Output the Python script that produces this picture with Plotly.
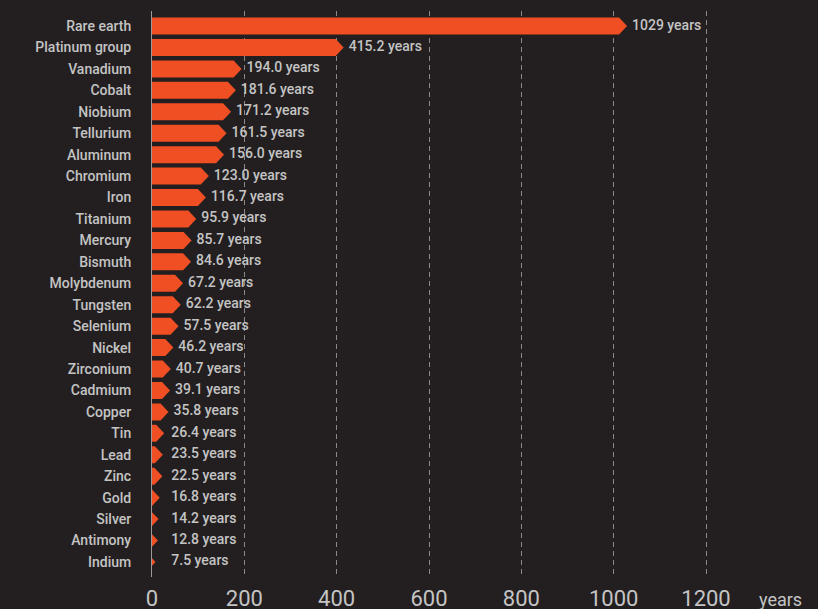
import plotly.graph_objects as go

materials = ["Rare earth", "Platinum group", "Vanadium", "Cobalt", "Niobium", "Tellurium",
             "Aluminum", "Chromium", "Iron", "Titanium", "Mercury", "Bismuth", "Molybdenum",
             "Tungsten", "Selenium", "Nickel", "Zirconium", "Cadmium", "Copper", "Tin",
             "Lead", "Zinc", "Gold", "Silver", "Antimony", "Indium"]
years = [1029, 415.2, 194.0, 181.6, 171.2, 161.5, 156.0, 123.0, 116.7, 95.9, 85.7, 84.6,
         67.2, 62.2, 57.5, 46.2, 40.7, 39.1, 35.8, 26.4, 23.5, 22.5, 16.8, 14.2, 12.8, 7.5]
x_ticks = [0, 200, 400, 600, 800, 1000, 1200]

BG = "#231f20"
BAR = "#f04e23"
TXT = "#c4c4c4"

W, H = 818, 609
L, R, T, B = 152, 98, 11, 32
plot_w = W - L - R
plot_h = H - T - B
x_max = 1230.3
y_lo, y_hi = -0.7, len(materials) - 1 + 0.7
px_x = plot_w / x_max
px_y = plot_h / (y_hi - y_lo)

point_u = 8 / px_x
half_u = 8.5 / px_y

fig = go.Figure()
for i, v in enumerate(years):
    if v >= point_u:
        xs = [0, v - point_u, v, v - point_u, 0, 0]
        ys = [i - half_u, i - half_u, i, i + half_u, i + half_u, i - half_u]
    else:
        hh = half_u * v / point_u
        xs = [0, v, 0, 0]
        ys = [i - hh, i, i + hh, i - hh]
    fig.add_trace(go.Scatter(x=xs, y=ys, mode="lines", fill="toself", fillcolor=BAR,
                             line=dict(width=0, color=BAR), hoverinfo="skip", showlegend=False))

labels = [("%d years" % v) if v >= 1000 else ("%.1f years" % v) for v in years]
label_x = [max(v, 31) + 5 / px_x for v in years]
fig.add_trace(go.Scatter(x=label_x, y=list(range(len(years))), mode="text", text=labels,
                         textposition="middle right",
                         textfont=dict(family="Roboto", size=14, color=TXT, weight=500),
                         hoverinfo="skip", showlegend=False))

fig.add_annotation(text="years", xref="paper", yref="paper", x=(757 - L) / plot_w, y=0,
                   xanchor="left", yanchor="top", yshift=-10, showarrow=False,
                   font=dict(family="Roboto", size=18, color=TXT))

fig.update_layout(
    width=W, height=H, margin=dict(l=L, r=R, t=T, b=B),
    paper_bgcolor=BG, plot_bgcolor=BG,
    xaxis=dict(range=[0, x_max], tickvals=x_ticks, showgrid=True, gridcolor="#8a8a8a",
               griddash="5px,4px", gridwidth=1, zeroline=False, showline=False, ticks="",
               automargin=False, ticklabelstandoff=6,
               tickfont=dict(family="Roboto", size=22, color=TXT)),
    yaxis=dict(range=[y_hi, y_lo], tickvals=list(range(len(materials))), ticktext=materials,
               showgrid=False, zeroline=False, showline=True, linecolor="#9a9a9a", linewidth=1,
               ticks="", ticklabelstandoff=17, automargin=False,
               tickfont=dict(family="Roboto", size=14, color=TXT, weight=500)),
    font=dict(family="Roboto", color=TXT),
)

fig.write_html("out.html")
